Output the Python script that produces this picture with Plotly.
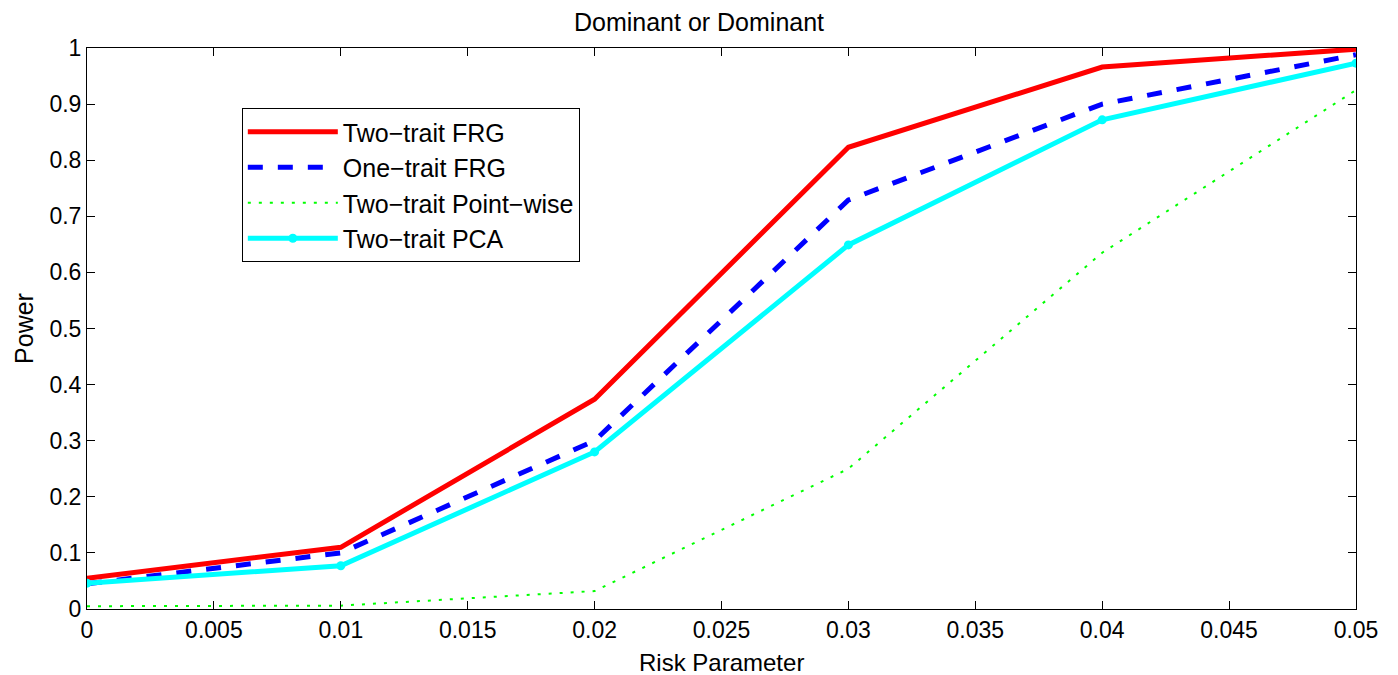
import plotly.graph_objects as go

x = [0, 0.01, 0.02, 0.03, 0.04, 0.05]
two_frg = [0.055, 0.11, 0.374, 0.823, 0.966, 0.998]
one_frg = [0.045, 0.10, 0.30, 0.729, 0.90, 0.988]
two_pw = [0.005, 0.006, 0.032, 0.25, 0.635, 0.925]
two_pca = [0.046, 0.077, 0.28, 0.649, 0.872, 0.973]

xticks = [0, 0.005, 0.01, 0.015, 0.02, 0.025, 0.03, 0.035, 0.04, 0.045, 0.05]
xticklabels = ["0", "0.005", "0.01", "0.015", "0.02", "0.025", "0.03", "0.035", "0.04", "0.045", "0.05"]
yticks = [0, 0.1, 0.2, 0.3, 0.4, 0.5, 0.6, 0.7, 0.8, 0.9, 1]
yticklabels = ["0", "0.1", "0.2", "0.3", "0.4", "0.5", "0.6", "0.7", "0.8", "0.9", "1"]

fig = go.Figure()
fig.add_trace(go.Scatter(x=x, y=two_frg, mode="lines", name="Two\u2212trait FRG",
                         line=dict(color="#ff0000", width=5)))
fig.add_trace(go.Scatter(x=x, y=one_frg, mode="lines", name="One\u2212trait FRG",
                         line=dict(color="#0000ff", width=5, dash="dash")))
fig.add_trace(go.Scatter(x=x, y=two_pw, mode="lines", name="Two\u2212trait Point\u2212wise",
                         line=dict(color="#00ff00", width=2, dash="3px,8px")))
fig.add_trace(go.Scatter(x=x, y=two_pca, mode="lines+markers", name="Two\u2212trait PCA",
                         line=dict(color="#00ffff", width=5),
                         marker=dict(color="#00ffff", size=9)))

axis_font = dict(family="Liberation Sans, Arial, sans-serif", size=23, color="black")
fig.update_layout(
    width=1382, height=667,
    margin=dict(l=79, r=34, t=40, b=66),
    plot_bgcolor="white", paper_bgcolor="white",
    font=dict(family="Liberation Sans, Arial, sans-serif", size=24, color="black"),
    title=dict(text="Dominant or Dominant", x=0.5, xanchor="center", y=0.978, yanchor="middle",
               font=dict(size=25)),
    showlegend=True,
    legend=dict(x=0.122, y=0.893, xanchor="left", yanchor="top",
                bgcolor="white", bordercolor="black", borderwidth=1,
                font=dict(size=25), itemwidth=90, tracegroupgap=4),
    xaxis=dict(range=[0, 0.05], tickvals=xticks, ticktext=xticklabels,
               showline=True, linecolor="black", linewidth=1, mirror="ticks",
               ticks="inside", ticklen=8, tickcolor="black", showgrid=False, zeroline=False,
               tickfont=axis_font, automargin=False),
    yaxis=dict(range=[0, 1], tickvals=yticks, ticktext=yticklabels,
               showline=True, linecolor="black", linewidth=1, mirror="ticks",
               ticks="inside", ticklen=8, tickcolor="black", showgrid=False, zeroline=False,
               tickfont=axis_font, automargin=False,
               title=dict(text="Power", font=dict(size=25), standoff=8)),
    annotations=[dict(text="Risk Parameter", x=0.5, y=0, xref="paper", yref="paper",
                      xanchor="center", yanchor="middle", yshift=-53, showarrow=False,
                      font=dict(size=24))],
)
fig.write_html("out.html")
